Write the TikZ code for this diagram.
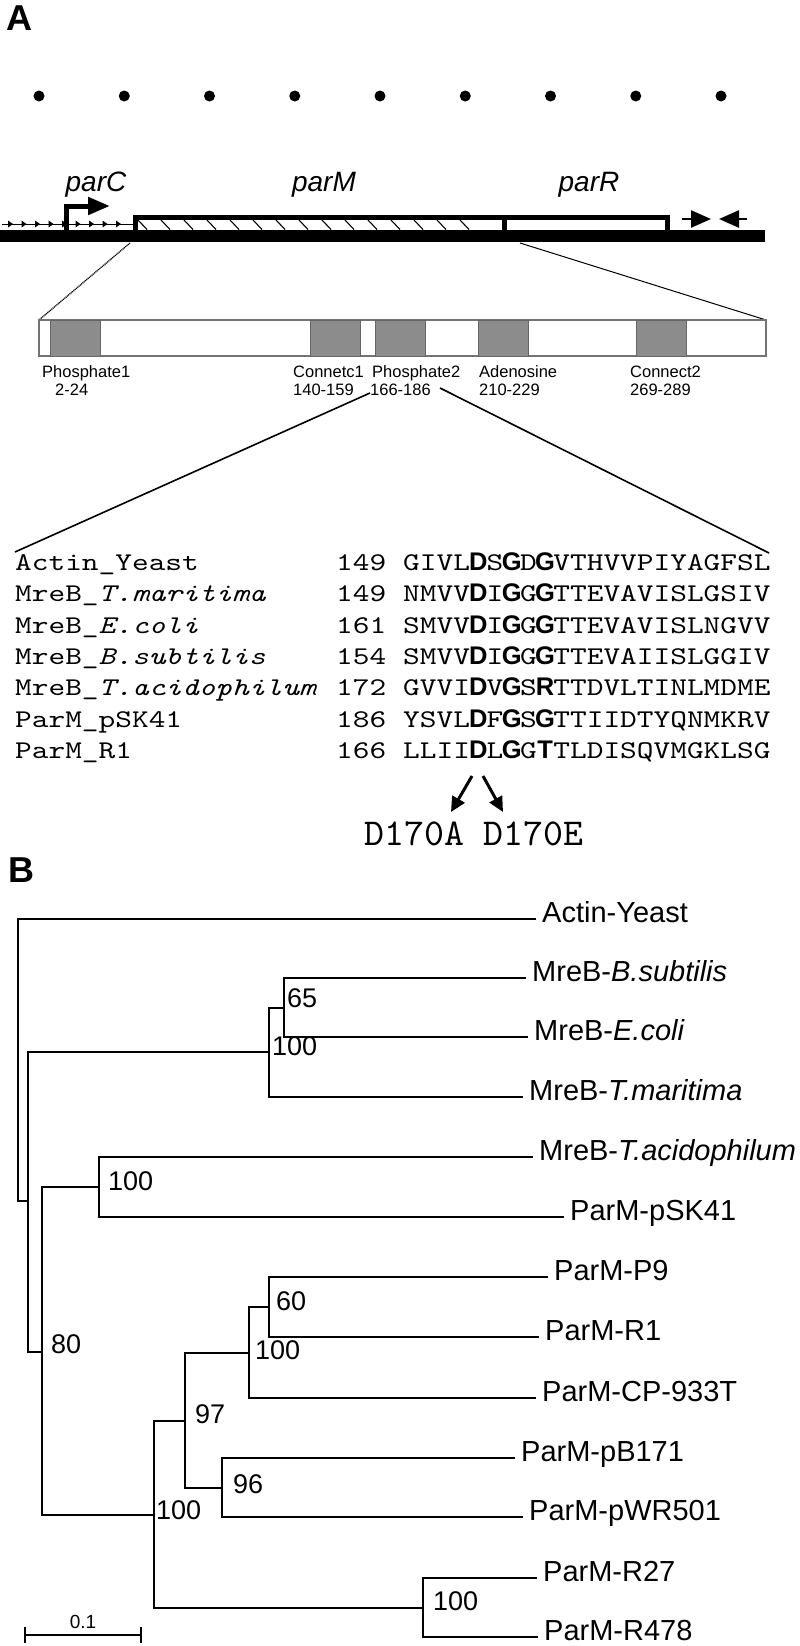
\documentclass[tikz,border=0pt]{standalone}
\usepackage{fontspec}
\setmainfont{Liberation Sans}
\newfontfamily\alnfont{lmmono10-regular.otf}[ItalicFont=lmmono10-italic.otf, FakeStretch=1.247]
\newfontfamily\mutfont{lmmono10-regular.otf}
\usepackage{tikz}
\usetikzlibrary{arrows.meta}

\newlength\cellw
\newcommand{\resbold}[1]{\settowidth{\cellw}{X}\makebox[\cellw]{\normalfont\bfseries #1}}

\tikzset{
  panel/.style={font=\fontsize{36}{36}\selectfont\bfseries, anchor=north west, inner sep=0pt},
  gene/.style={font=\fontsize{28}{28}\selectfont\itshape, anchor=base, inner sep=0pt},
  dom/.style={fill=black!45, draw=black!60, line width=0.6pt},
  domlbl/.style={font=\fontsize{16.5}{16.5}\selectfont, anchor=base west, inner sep=0pt},
  aln/.style={font=\alnfont\fontsize{25.5}{25.5}\selectfont, anchor=base west, inner sep=0pt},
  leaf/.style={font=\fontsize{29}{29}\selectfont, anchor=west, inner xsep=6pt, inner ysep=0pt, text height=0.72em, text depth=0pt},
  boot/.style={font=\fontsize{27}{27}\selectfont, anchor=west, inner sep=0pt, text height=0.72em, text depth=0pt},
  branch/.style={line width=2pt},
}

\begin{document}
\begin{tikzpicture}[x=1pt, y=-1pt, line join=miter]
  \useasboundingbox (0,0) rectangle (800,1646);
  % panel A: plasmid map
  \node[panel] (labA) at (6,6) {A};
  \foreach \i in {0,...,8}
    \fill (39+85.25*\i,96) circle (5.5pt);
  \node[gene] (parC) at (96,191) {parC};
  \node[gene] (parM) at (324,191) {parM};
  \node[gene] (parR) at (589,191) {parR};
  \fill (0,230) rectangle (765,242);
  \draw[line width=1pt] (2,224) -- (133,224);
  \foreach \x in {13,26.5,...,134}
    \fill (\x,224) -- (\x-5,220.5) -- (\x-5,227.5) -- cycle;
  \draw[line width=5pt, -{Triangle[length=22pt,width=17pt]}] (66,232) |- (110,206);
  \foreach \x in {138,161,...,480}
    \draw[line width=1.1pt] (\x,220) -- (\x+9,229.5);
  \draw[line width=5pt] (135,231) -- (135,217) -- (667,217) -- (667,231);
  \draw[line width=5pt] (504,217) -- (504,231);
  \draw[line width=2.5pt, -{Triangle[length=20pt,width=17pt]}] (682,219) -- (711,219);
  \draw[line width=2.5pt, -{Triangle[length=20pt,width=17pt]}] (747,219) -- (719,219);
  % zoom onto the protein
  \coordinate (gL) at (130,243);
  \coordinate (gR) at (520,243);
  \coordinate (pL) at (39,320);
  \coordinate (pR) at (766,320);
  \draw[line width=1.3pt, dash pattern=on 1pt off 0.7pt] (gL) -- (pL);
  \draw[line width=1pt] (gR) -- (pR);
  \draw[black!55, line width=1.2pt] (39,320) rectangle (766,356);
  \draw[dom] (50,320) rectangle (100,356);
  \draw[dom] (310,320) rectangle (360,356);
  \draw[dom] (375,320) rectangle (425,356);
  \draw[dom] (478,320) rectangle (528,356);
  \draw[dom] (636,320) rectangle (686,356);
  \node[domlbl] (d1a) at (42,377) {Phosphate1};
  \node[domlbl] (d1b) at (55,395) {2-24};
  \node[domlbl] (d2a) at (293,377) {Connetc1};
  \node[domlbl] (d2b) at (293,395) {140-159};
  \node[domlbl] (d3a) at (372,377) {Phosphate2};
  \node[domlbl] (d3b) at (370,395) {166-186};
  \node[domlbl] (d4a) at (479,377) {Adenosine};
  \node[domlbl] (d4b) at (479,395) {210-229};
  \node[domlbl] (d5a) at (630,377) {Connect2};
  \node[domlbl] (d5b) at (630,395) {269-289};
  % zoom onto the alignment
  \coordinate (zL) at (370,393);
  \coordinate (zR) at (440,388);
  \coordinate (aL) at (15,552);
  \coordinate (aR) at (769,553);
  \draw[line width=1.6pt] (zL) -- (aL);
  \draw[line width=1.6pt] (zR) -- (aR);
  \node[aln] (nm1) at (15,570) {Actin\_Yeast};
  \node[aln] (nm2) at (15,601) {MreB\_\textit{T.maritima}};
  \node[aln] (nm3) at (15,633) {MreB\_\textit{E.coli}};
  \node[aln] (nm4) at (15,664) {MreB\_\textit{B.subtilis}};
  \node[aln] (nm5) at (15,695) {MreB\_\textit{T.acidophilum}};
  \node[aln] (nm6) at (15,727) {ParM\_pSK41};
  \node[aln] (nm7) at (15,758) {ParM\_R1};
  \node[aln] (no1) at (336,570) {149};
  \node[aln] (no2) at (336,601) {149};
  \node[aln] (no3) at (336,633) {161};
  \node[aln] (no4) at (336,664) {154};
  \node[aln] (no5) at (336,695) {172};
  \node[aln] (no6) at (336,727) {186};
  \node[aln] (no7) at (336,758) {166};
  \node[aln] (sq1) at (403,570) {GIVL\resbold{D}S\resbold{G}D\resbold{G}VTHVVPIYAGFSL};
  \node[aln] (sq2) at (403,601) {NMVV\resbold{D}I\resbold{G}G\resbold{G}TTEVAVISLGSIV};
  \node[aln] (sq3) at (403,633) {SMVV\resbold{D}I\resbold{G}G\resbold{G}TTEVAVISLNGVV};
  \node[aln] (sq4) at (403,664) {SMVV\resbold{D}I\resbold{G}G\resbold{G}TTEVAIISLGGIV};
  \node[aln] (sq5) at (403,695) {GVVI\resbold{D}V\resbold{G}S\resbold{R}TTDVLTINLMDME};
  \node[aln] (sq6) at (403,727) {YSVL\resbold{D}F\resbold{G}S\resbold{G}TTIIDTYQNMKRV};
  \node[aln] (sq7) at (403,758) {LLII\resbold{D}L\resbold{G}G\resbold{T}TLDISQVMGKLSG};
  \coordinate (dA) at (472,776);
  \coordinate (dE) at (483,776);
  \node[font=\mutfont\fontsize{38}{38}\selectfont, anchor=base west, inner sep=0pt] (mut) at (364,845) {D170A D170E};
  \draw[line width=3pt, -{Triangle[length=15pt,width=14pt]}] (dA) -- (451,812);
  \draw[line width=3pt, -{Triangle[length=15pt,width=14pt]}] (dE) -- (503,812);
  % panel B: tree
  \node[panel] (labB) at (8,858) {B};
  \coordinate (root) at (18,1060);
  \coordinate (n1) at (28,1201);
  \coordinate (m1) at (269,1052);
  \coordinate (m2) at (284,1008);
  \coordinate (n80) at (42,1352);
  \coordinate (t1) at (99,1187);
  \coordinate (p1) at (154,1515);
  \coordinate (q1) at (185,1421);
  \coordinate (r1) at (249,1353);
  \coordinate (s1) at (269,1307);
  \coordinate (u1) at (222,1488);
  \coordinate (v1) at (423,1608);
  \node[leaf] (Lact) at (536,919) {Actin-Yeast};
  \node[leaf] (Lbsu) at (526,978) {MreB-\textit{B.subtilis}};
  \node[leaf] (Leco) at (528,1037) {MreB-\textit{E.coli}};
  \node[leaf] (Ltma) at (523,1097) {MreB-\textit{T.maritima}};
  \node[leaf] (Ltac) at (533,1157) {MreB-\textit{T.acidophilum}};
  \node[leaf] (Lpsk) at (564,1217) {ParM-pSK41};
  \node[leaf] (Lp9) at (548,1277) {ParM-P9};
  \node[leaf] (Lr1) at (539,1337) {ParM-R1};
  \node[leaf] (Lcp) at (536,1398) {ParM-CP-933T};
  \node[leaf] (Lpb) at (515,1458) {ParM-pB171};
  \node[leaf] (Lpw) at (523,1517) {ParM-pWR501};
  \node[leaf] (Lr27) at (537,1578) {ParM-R27};
  \node[leaf] (Lr478) at (538,1637) {ParM-R478};
  \foreach \a/\b in {root/Lact, root/n1, n1/m1, n1/n80, m1/m2, m1/Ltma, m2/Lbsu, m2/Leco,
                     n80/t1, n80/p1, t1/Ltac, t1/Lpsk, p1/q1, p1/v1, q1/r1, q1/u1,
                     r1/s1, r1/Lcp, s1/Lp9, s1/Lr1, u1/Lpb, u1/Lpw, v1/Lr27, v1/Lr478}
    \draw[branch] (\a) |- (\b);
  \node[boot] (b65) at (287,1004) {65};
  \node[boot] (bm1) at (272,1052) {100};
  \node[boot] (bt1) at (108,1187) {100};
  \node[boot] (b80) at (51,1350) {80};
  \node[boot] (b60) at (276,1307) {60};
  \node[boot] (br1) at (255,1356) {100};
  \node[boot] (b97) at (195,1420) {97};
  \node[boot] (b96) at (233,1490) {96};
  \node[boot] (bp1) at (156,1516) {100};
  \node[boot] (bv1) at (433,1607) {100};
  % scale bar
  \coordinate (sbL) at (25,1635);
  \coordinate (sbR) at (141,1635);
  \draw[branch] (sbL) -- (sbR);
  \draw[branch] ([yshift=-8pt]sbL) -- ([yshift=8pt]sbL);
  \draw[branch] ([yshift=-8pt]sbR) -- ([yshift=8pt]sbR);
  \node[font=\fontsize{19}{19}\selectfont, inner sep=0pt] (sbT) at (83,1622) {0.1};
\end{tikzpicture}
\end{document}
